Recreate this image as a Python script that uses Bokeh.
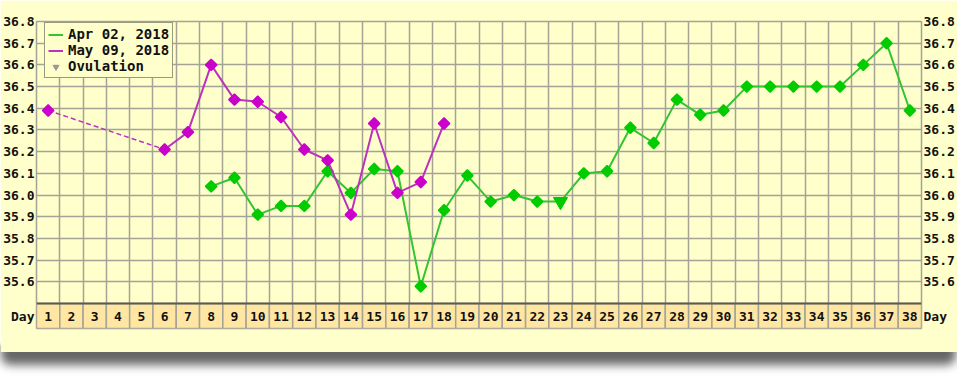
import math
from bokeh.plotting import figure
from bokeh.models import (Range1d, FixedTicker, LinearAxis, Legend, LegendItem,
                          Span, Label)
from bokeh.embed import file_html
from bokeh.resources import INLINE
from bokeh.core.properties import value

# ---------------- data ----------------
days = list(range(1, 39))
day_labels = [str(d) for d in days]

temp_ticks = [35.6, 35.7, 35.8, 35.9, 36.0, 36.1, 36.2, 36.3, 36.4, 36.5, 36.6, 36.7, 36.8]
temp_tick_labels = ["35.6", "35.7", "35.8", "35.9", "36.0", "36.1", "36.2",
                    "36.3", "36.4", "36.5", "36.6", "36.7", "36.8"]

apr_days = list(range(8, 39))
apr_temps = [36.04, 36.08, 35.91, 35.95, 35.95, 36.11, 36.01, 36.12, 36.11, 35.58,
             35.93, 36.09, 35.97, 36.00, 35.97, 35.97, 36.10, 36.11, 36.31, 36.24,
             36.44, 36.37, 36.39, 36.50, 36.50, 36.50, 36.50, 36.50, 36.60, 36.70,
             36.39]

may_days = [1, 6, 7, 8, 9, 10, 11, 12, 13, 14, 15, 16, 17, 18]
may_temps = [36.39, 36.21, 36.29, 36.60, 36.44, 36.43, 36.36, 36.21, 36.16, 35.91,
             36.33, 36.01, 36.06, 36.33]

ovulation_day = 23
series_names = ["Apr 02, 2018", "May 09, 2018", "Ovulation"]
day_row_label = "Day"
copyright_text = "Copyright 1998-2018 Tamtris Web Services Inc. - All Rights Reserved."

# ---------------- style ----------------
FONT = "DejaVu Sans Mono"
YELLOW = "#FFFFCC"
ROW_FILL = "#FFE7A3"
GRID = "#A3A397"
GREEN = "#00CC00"
GREEN_LINE = "#33C433"
MAG = "#CC00CC"
MAG_LINE = "#BB33BB"

grid_bottom = 35.5
row_h = 0.115
row_center = grid_bottom - row_h / 2
y_start = grid_bottom - row_h

p = figure(width=957, height=352,
           x_range=Range1d(0.5, 38.5), y_range=Range1d(y_start, 36.8),
           x_axis_location=None, y_axis_location="left",
           output_backend="svg", toolbar_location=None,
           min_border_left=0, min_border_right=0,
           min_border_top=21, min_border_bottom=24,
           background_fill_color=YELLOW, border_fill_color=YELLOW,
           outline_line_color=GRID, outline_line_width=1.5)

p.styles = {"box-shadow": "0 14px 10px -1px rgba(0,0,0,0.6)",
            "border-radius": "0 0 10px 10px"}

# grid
p.xgrid.ticker = FixedTicker(ticks=[d - 0.5 for d in days] + [days[-1] + 0.5])
p.ygrid.ticker = FixedTicker(ticks=temp_ticks)
for g in (p.xgrid, p.ygrid):
    g.grid_line_color = GRID
    g.grid_line_width = 1.5

# y axes (left and right)
axis_ticks = [row_center] + temp_ticks
overrides = {row_center: day_row_label}
for t, lab in zip(temp_ticks, temp_tick_labels):
    overrides[t] = lab

right_axis = LinearAxis()
p.add_layout(right_axis, "right")
for ax in [p.yaxis[0], right_axis]:
    ax.ticker = FixedTicker(ticks=axis_ticks)
    ax.major_label_overrides = overrides
    ax.axis_line_color = None
    ax.major_tick_line_color = None
    ax.minor_tick_line_color = None
    ax.major_tick_out = 0
    ax.major_tick_in = 0
    ax.major_label_standoff = 2
    ax.major_label_text_font = FONT
    ax.major_label_text_font_style = "bold"
    ax.major_label_text_font_size = "13px"
    ax.major_label_text_color = "#111111"

# day row
p.quad(left=[d - 0.5 for d in days], right=[d + 0.5 for d in days],
       top=[grid_bottom] * len(days), bottom=[y_start] * len(days),
       fill_color=ROW_FILL, line_color=GRID, line_width=1.5)
p.add_layout(Span(location=grid_bottom, dimension="width",
                  line_color="#5A5A50", line_width=2))
p.text(x=days, y=[row_center] * len(days), text=day_labels,
       text_font=value(FONT), text_font_style="bold", text_font_size="13px",
       text_align="center", text_baseline="middle", text_color="#111111")

# Apr series
apr_line = p.line(apr_days, apr_temps, line_color=GREEN_LINE, line_width=2)
mk_days = [d for d in apr_days if d != ovulation_day]
mk_temps = [t for d, t in zip(apr_days, apr_temps) if d != ovulation_day]
p.scatter(mk_days, mk_temps, marker="square", angle=math.pi / 4, size=8,
          fill_color=GREEN, line_color=GREEN, line_width=1.5)
ovu_temp = apr_temps[apr_days.index(ovulation_day)]
# ovulation marker (grey in legend, covered by the green chart marker)
ovu_legend = p.scatter([ovulation_day], [ovu_temp], marker="inverted_triangle",
                       size=13, fill_color="#999999", line_color="#999999")
p.scatter([ovulation_day], [ovu_temp], marker="inverted_triangle", size=14,
          fill_color=GREEN, line_color=GREEN)

# May series (dashed across the gap of missing days)
p.line(may_days[:2], may_temps[:2], line_color=MAG_LINE, line_width=1.5,
       line_dash="5 3")
may_line = p.line(may_days[1:], may_temps[1:], line_color=MAG_LINE, line_width=2)
p.scatter(may_days, may_temps, marker="square", angle=math.pi / 4, size=8,
          fill_color=MAG, line_color=MAG, line_width=1.5)

legend = Legend(items=[LegendItem(label=series_names[0], renderers=[apr_line]),
                       LegendItem(label=series_names[1], renderers=[may_line]),
                       LegendItem(label=series_names[2], renderers=[ovu_legend])],
                location=(8, 250), padding=3, spacing=0,
                glyph_width=15, glyph_height=15, label_height=15,
                label_standoff=5,
                label_text_font=FONT, label_text_font_style="bold",
                label_text_font_size="14px", label_text_color="#111111",
                border_line_color="#333333", border_line_width=1.5,
                background_fill_color=YELLOW, background_fill_alpha=1.0)
p.add_layout(legend)

p.add_layout(Label(x=19.5, y=-16, x_units="data", y_units="screen",
                   text=copyright_text, text_align="center",
                   text_baseline="middle", text_font=FONT,
                   text_font_size="10px", text_color="#222222"))

open("out.html", "w").write(file_html(p, INLINE))
